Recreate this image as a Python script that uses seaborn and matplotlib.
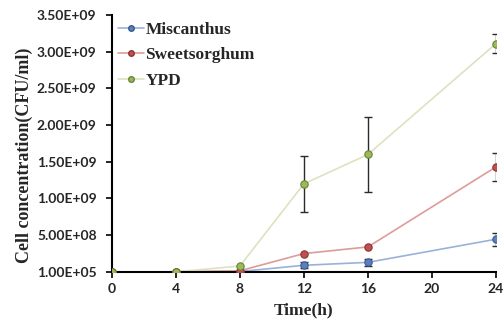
import numpy as np
import pandas as pd
import matplotlib
matplotlib.use("Agg")
import matplotlib.pyplot as plt
from matplotlib.lines import Line2D
import seaborn as sns

# dados
time_h = [0, 4, 8, 12, 16, 24]
miscanthus = [1e5, 1e5, 5e6, 0.09e9, 0.13e9, 0.445e9]
miscanthus_err = [0, 0, 0, 0.04e9, 0.05e9, 0.09e9]
sweetsorghum = [1e5, 1e5, 1.5e7, 0.25e9, 0.34e9, 1.43e9]
sweetsorghum_err = [0, 0, 0, 0, 0, 0.19e9]
ypd = [1e5, 1e5, 0.08e9, 1.2e9, 1.6e9, 3.11e9]
ypd_err = [0, 0, 0, 0.38e9, 0.51e9, 0.13e9]

series_names = ["Miscanthus", "Sweetsorghum", "YPD"]
y_ticks = [1e5, 5e8, 1e9, 1.5e9, 2e9, 2.5e9, 3e9, 3.5e9]
y_tick_labels = ["1.00E+05", "5.00E+08", "1.00E+09", "1.50E+09",
                 "2.00E+09", "2.50E+09", "3.00E+09", "3.50E+09"]
x_ticks = [0, 4, 8, 12, 16, 20, 24]

marker_colors = {"Miscanthus": "#5a7fc0", "Sweetsorghum": "#c0504d", "YPD": "#9bbb59"}
line_colors = {"Miscanthus": "#98b2da", "Sweetsorghum": "#dc9c9a", "YPD": "#dde2bf"}
edge_colors = {"Miscanthus": "#3c5a8c", "Sweetsorghum": "#8c3533", "YPD": "#6b8238"}

df = pd.DataFrame({
    "time": time_h * 3,
    "conc": miscanthus + sweetsorghum + ypd,
    "err": miscanthus_err + sweetsorghum_err + ypd_err,
    "medium": sum([[n] * len(time_h) for n in series_names], []),
})

sns.set_style("white")
fig = plt.figure(figsize=(5.04, 3.26), dpi=100)
ax = fig.add_axes([0.222, 0.166, 0.762, 0.788])

for name in series_names:
    sub = df[df["medium"] == name]
    sns.lineplot(data=sub, x="time", y="conc", color=line_colors[name],
                 linewidth=1.2, ax=ax, zorder=2)
    e = sub[sub["err"] > 0]
    ax.errorbar(e["time"], e["conc"], yerr=e["err"], fmt="none",
                ecolor="#2a2a2a", elinewidth=1.0, capsize=3, capthick=1.0,
                zorder=3)
    sns.scatterplot(data=sub, x="time", y="conc", color=marker_colors[name],
                    edgecolor=edge_colors[name], linewidth=0.8, s=28,
                    ax=ax, zorder=4, legend=False)

ax.set_xlim(0, 24)
ax.set_ylim(1e5, 3.5e9)
ax.set_xticks(x_ticks)
ax.set_yticks(y_ticks)
ax.set_yticklabels(y_tick_labels)

for lab in ax.get_xticklabels() + ax.get_yticklabels():
    lab.set_fontfamily("Lato")
    lab.set_fontweight("bold")
    lab.set_fontsize(10)

ax.tick_params(axis="both", direction="out", length=4, width=1.2,
               color="black", left=True, bottom=True)
ax.tick_params(axis="y", pad=7)
ax.tick_params(axis="x", pad=4)
for side in ["top", "right"]:
    ax.spines[side].set_visible(False)
for side in ["left", "bottom"]:
    ax.spines[side].set_color("black")
    ax.spines[side].set_linewidth(1.5)

ax.set_xlabel("Time(h)", family="Liberation Serif", weight="bold", size=12.5,
              labelpad=5)
ax.set_ylabel("Cell concentration(CFU/ml)", family="Liberation Serif",
              weight="bold", size=13)
ax.yaxis.set_label_coords(-0.206, 0.455)

handles = [Line2D([0], [0], color=line_colors[n], linewidth=1.2, marker="o",
                  markersize=4, markerfacecolor=marker_colors[n],
                  markeredgecolor=edge_colors[n]) for n in series_names]
ax.legend(handles, series_names, loc="upper left", bbox_to_anchor=(-0.012, 1.015),
          frameon=False, handlelength=1.5, handletextpad=0.1, labelspacing=0.55,
          borderaxespad=0.2,
          prop={"family": "Liberation Serif", "weight": "bold", "size": 12.5})

fig.savefig("out.png", dpi=100)
